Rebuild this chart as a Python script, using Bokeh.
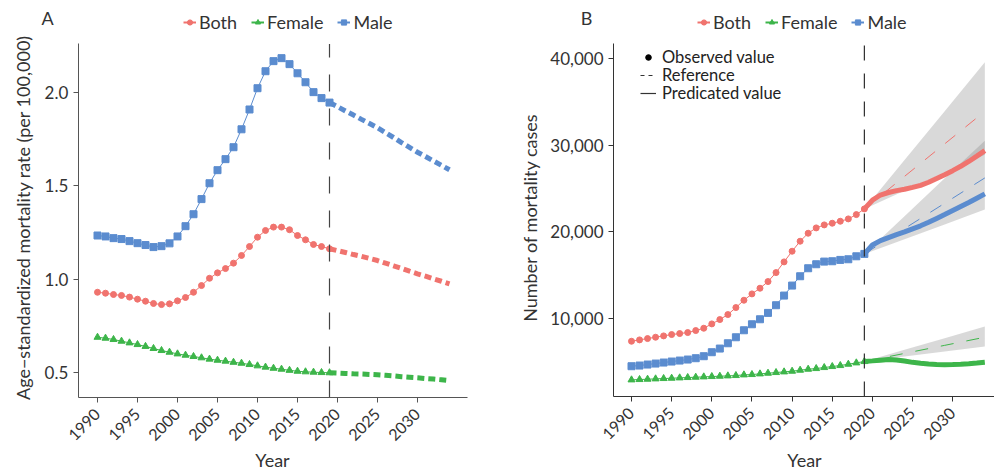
import math
from bokeh.plotting import figure
from bokeh.layouts import row
from bokeh.models import (Range1d, FixedTicker, PrintfTickFormatter, NumeralTickFormatter,
                          Legend, LegendItem, Label)
from bokeh.embed import file_html
from bokeh.resources import INLINE

# ---------------- data ----------------
years_obs = list(range(1990, 2020))
years_pred = list(range(2019, 2035))
years_band = [2019, 2024, 2029, 2034]
x_ticks = [1990, 1995, 2000, 2005, 2010, 2015, 2020, 2025, 2030]
yA_ticks = [0.5, 1.0, 1.5, 2.0]
yB_ticks = [10000, 20000, 30000, 40000]

# Panel A: age-standardized mortality rate (per 100,000)
asr_both_obs = [0.930, 0.925, 0.918, 0.913, 0.904, 0.893, 0.882, 0.870, 0.864, 0.868,
                0.884, 0.902, 0.930, 0.966, 1.005, 1.034, 1.057, 1.086, 1.127, 1.175,
                1.225, 1.261, 1.279, 1.279, 1.265, 1.234, 1.211, 1.186, 1.175, 1.163]
asr_female_obs = [0.689, 0.684, 0.677, 0.668, 0.659, 0.650, 0.640, 0.629, 0.618, 0.609,
                  0.600, 0.593, 0.586, 0.579, 0.572, 0.566, 0.561, 0.555, 0.550, 0.543,
                  0.536, 0.529, 0.523, 0.518, 0.512, 0.507, 0.504, 0.502, 0.500, 0.499]
asr_male_obs = [1.234, 1.229, 1.220, 1.215, 1.204, 1.193, 1.183, 1.172, 1.177, 1.192,
                1.229, 1.284, 1.348, 1.429, 1.514, 1.584, 1.643, 1.707, 1.803, 1.909,
                2.023, 2.114, 2.168, 2.184, 2.152, 2.103, 2.055, 2.002, 1.970, 1.946]
asr_both_pred = [1.163, 1.153, 1.143, 1.132, 1.122, 1.111, 1.100, 1.086, 1.072, 1.058,
                 1.043, 1.029, 1.016, 1.002, 0.989, 0.975]
asr_female_pred = [0.499, 0.497, 0.495, 0.493, 0.492, 0.490, 0.488, 0.485, 0.482, 0.478,
                   0.475, 0.472, 0.468, 0.465, 0.461, 0.457]
asr_male_pred = [1.946, 1.924, 1.901, 1.879, 1.856, 1.834, 1.811, 1.785, 1.759, 1.732,
                 1.706, 1.680, 1.657, 1.633, 1.610, 1.586]

# Panel B: number of mortality cases
n_both_obs = [7383, 7540, 7694, 7848, 8001, 8155, 8270, 8386, 8616, 8885,
              9385, 9885, 10461, 11268, 12115, 12845, 13499, 14266, 15304, 16537,
              17767, 18920, 19842, 20458, 20804, 20996, 21226, 21496, 21992, 22649]
n_female_obs = [2929, 2967, 3005, 3044, 3082, 3120, 3159, 3197, 3236, 3274,
                3313, 3351, 3389, 3428, 3505, 3543, 3620, 3697, 3774, 3851,
                3928, 4043, 4158, 4235, 4350, 4466, 4581, 4735, 4889, 5042]
n_male_obs = [4503, 4581, 4696, 4811, 4927, 5042, 5157, 5273, 5427, 5657,
              6118, 6541, 7152, 7844, 8651, 9343, 9919, 10653, 11538, 12652,
              13805, 14882, 15804, 16265, 16572, 16611, 16765, 16841, 17183, 17457]
n_both_pred = [22649, 23650, 24250, 24540, 24760, 24920, 25130, 25370, 25720, 26160,
               26600, 27060, 27560, 28120, 28740, 29373]
n_female_pred = [5042, 5120, 5200, 5270, 5230, 5100, 4950, 4850, 4760, 4700,
                 4680, 4690, 4730, 4800, 4880, 4965]
n_male_pred = [17457, 18480, 18990, 19340, 19680, 20000, 20350, 20700, 21100, 21550,
               22000, 22460, 22920, 23380, 23880, 24377]
n_both_ref = [22649, 26400, 30150, 33900]
n_female_ref = [5042, 5980, 6910, 7848]
n_male_ref = [17457, 20380, 23300, 26222]
n_both_hi = [22649, 28280, 33920, 39551]
n_both_lo = [22649, 24730, 26820, 28900]
n_female_hi = [5042, 6390, 7730, 9078]
n_female_lo = [5042, 5620, 6200, 6772]
n_male_hi = [17457, 21810, 26170, 30524]
n_male_lo = [17457, 19160, 20860, 22568]

# ---------------- layout / style ----------------
FONT = "Lato"
RED, GREEN, BLUE = "#F0736E", "#3DB54A", "#5B8CCF"
TXT = "#333333"
H = 469
# canvas-wide ranges (frame = whole canvas) and the plotting-area bounds of the axes
A_XR, A_YR = (1977.875, 2040.375), (-0.0193, 2.4928)
A_XB, A_YB = (1987.6, 2036.25), (0.366, 2.26)
B_XR, B_YR = (1973.686, 2035.205), (-7410, 46687)
B_XB, B_YB = (1987.76, 2035.2), (1007, 41708)
OFF_X = [1900, 1901]   # legend-only renderers live outside the visible range
OFF_Y = [0, 0]


def make_fig(width, xr, yr, xb, yb, axis_color):
    p = figure(width=width, height=H, output_backend="svg", toolbar_location=None,
               x_range=Range1d(*xr), y_range=Range1d(*yr),
               min_border=0, min_border_left=0, min_border_right=0,
               min_border_top=0, min_border_bottom=0)
    p.outline_line_color = None
    p.grid.visible = False
    p.background_fill_color = "white"
    p.border_fill_color = "white"
    p.xaxis.fixed_location = yb[0]
    p.yaxis.fixed_location = xb[0]
    p.xaxis.bounds = xb
    p.yaxis.bounds = yb
    for ax in (p.xaxis[0], p.yaxis[0]):
        ax.axis_line_color = axis_color
        ax.major_tick_line_color = axis_color
        ax.minor_tick_line_color = None
        ax.major_tick_out = 5
        ax.major_tick_in = 0
        ax.major_label_text_font = FONT
        ax.major_label_text_font_size = "17px"
        ax.major_label_text_color = TXT
    p.xaxis.ticker = FixedTicker(ticks=x_ticks)
    p.xaxis.major_label_orientation = math.pi / 4
    p.xaxis.major_label_standoff = 9
    p.xaxis.major_label_text_font_size = "16px"
    return p


def text(p, x, y, s, size="18px", angle=0.0):
    p.add_layout(Label(x=x, y=y, x_units="screen", y_units="screen", text=s, angle=angle,
                       text_font=FONT, text_font_size=size, text_color=TXT,
                       text_align="center", text_baseline="middle"))


def top_legend(p, x, y):
    items = []
    for lab, c, m in (("Both", RED, "circle"), ("Female", GREEN, "triangle"), ("Male", BLUE, "square")):
        lr = p.line(OFF_X, OFF_Y, line_color=c, line_width=2)
        sr = p.scatter(OFF_X[:1], OFF_Y[:1], marker=m, size=6, fill_color=c, line_color=c)
        items.append(LegendItem(label=lab, renderers=[lr, sr]))
    lg = Legend(items=items, orientation="horizontal", location=(x, y), padding=0, margin=0,
                border_line_color=None, background_fill_alpha=0,
                label_text_font=FONT, label_text_font_size="18px", label_text_color=TXT,
                glyph_width=13, glyph_height=14, label_standoff=3, spacing=14)
    p.add_layout(lg)


# ---------------- panel A ----------------
pA = make_fig(500, A_XR, A_YR, A_XB, A_YB, "#555555")
pA.yaxis.ticker = FixedTicker(ticks=yA_ticks)
pA.yaxis.formatter = PrintfTickFormatter(format="%.1f")

for obs, pred, c, m, sz in ((asr_male_obs, asr_male_pred, BLUE, "square", 7),
                            (asr_both_obs, asr_both_pred, RED, "circle", 6),
                            (asr_female_obs, asr_female_pred, GREEN, "triangle", 7)):
    pA.line(years_pred, pred, line_color=c, line_width=5, line_dash="7 4")
    pA.line(years_obs, obs, line_color=c, line_width=1)
    pA.scatter(years_obs, obs, marker=m, size=sz, fill_color=c, line_color=c)

pA.segment(x0=[years_obs[-1]], y0=[A_YB[0]], x1=[years_obs[-1]], y1=[A_YB[1]],
           line_color="#444444", line_width=1.2, line_dash="17 17")
top_legend(pA, 183, 436)
text(pA, 47, 452, "A")
text(pA, 272, 10, "Year")
text(pA, 22, 252, "Age\u2212standardized mortality rate (per 100,000)", angle=math.pi / 2)

# ---------------- panel B ----------------
pB = make_fig(494, B_XR, B_YR, B_XB, B_YB, "#333333")
pB.yaxis.ticker = FixedTicker(ticks=yB_ticks)
pB.yaxis.formatter = NumeralTickFormatter(format="0,0")

for lo, hi in ((n_both_lo, n_both_hi), (n_male_lo, n_male_hi), (n_female_lo, n_female_hi)):
    pB.varea(x=years_band, y1=lo, y2=hi, fill_color="#808080", fill_alpha=0.3)

for ref, c in ((n_both_ref, RED), (n_male_ref, BLUE), (n_female_ref, GREEN)):
    pB.line(years_band, ref, line_color=c, line_width=1, line_dash="13 13")

for obs, pred, c, m, sz in ((n_both_obs, n_both_pred, RED, "circle", 6),
                            (n_male_obs, n_male_pred, BLUE, "square", 7),
                            (n_female_obs, n_female_pred, GREEN, "triangle", 7)):
    pB.line(years_pred, pred, line_color=c, line_width=5)
    pB.line(years_obs, obs, line_color=c, line_width=1)
    pB.scatter(years_obs, obs, marker=m, size=sz, fill_color=c, line_color=c)

pB.segment(x0=[years_obs[-1]], y0=[B_YB[0]], x1=[years_obs[-1]], y1=[B_YB[1]],
           line_color="#333333", line_width=1.2, line_dash="15 13")
top_legend(pB, 197, 436)
text(pB, 86, 452, "B")
text(pB, 304, 10, "Year")
text(pB, 29, 252, "Number of mortality cases", angle=math.pi / 2)

# inner legend (three single-row legends)
d_obs = pB.scatter(OFF_X[:1], OFF_Y[:1], marker="circle", size=4, fill_color="black", line_color="black")
d_ref = pB.line(OFF_X, OFF_Y, line_color="#333333", line_width=1, line_dash="4 4")
d_pred = pB.line(OFF_X, OFF_Y, line_color="#333333", line_width=1.2)
for lab, r, yy in (("Observed value", d_obs, 402), ("Reference", d_ref, 384),
                   ("Predicated value", d_pred, 366)):
    lg = Legend(items=[LegendItem(label=lab, renderers=[r])], location=(140, yy),
                padding=0, margin=0, border_line_color=None, background_fill_alpha=0,
                label_text_font=FONT, label_text_font_size="16.5px", label_text_color="#222222",
                glyph_width=16, glyph_height=14, label_standoff=6)
    pB.add_layout(lg)

layout = row(pA, pB)
open("out.html", "w").write(file_html(layout, INLINE))
